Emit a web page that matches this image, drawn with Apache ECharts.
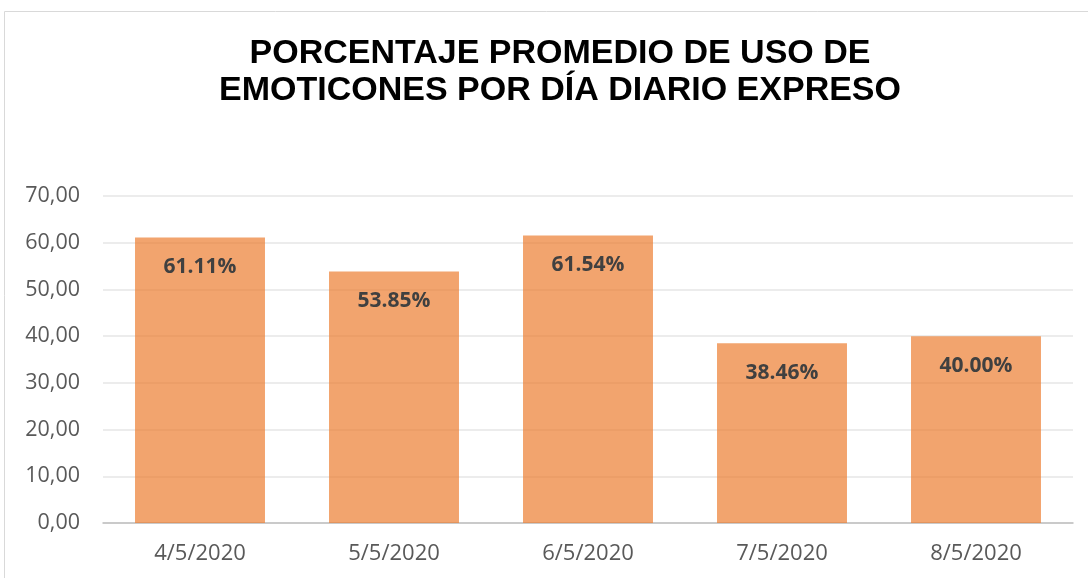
<!DOCTYPE html>
<html lang="es">
<head>
    <meta charset="utf-8">
    <title>Porcentaje promedio de uso de emoticones</title>
    <script src="https://cdn.jsdelivr.net/npm/echarts@6/dist/echarts.min.js"></script>
    <style>
        html, body { margin: 0; padding: 0; background: #fff; }
        #main { width: 1088px; height: 578px; }
    </style>
</head>
<body>
    <div id="main"></div>
    <script type="text/javascript">
        // datos
        var fechas = ['4/5/2020', '5/5/2020', '6/5/2020', '7/5/2020', '8/5/2020'];
        var porcentajes = [61.11, 53.85, 61.54, 38.46, 40.00];

        var myChart = echarts.init(document.getElementById('main'));

        myChart.setOption({
            animation: false,
            title: {
                text: 'PORCENTAJE PROMEDIO DE USO DE\nEMOTICONES POR DÍA DIARIO EXPRESO',
                left: 555,
                textAlign: 'center',
                top: 30,
                textStyle: {
                    fontFamily: 'Liberation Sans, Arial',
                    fontWeight: 'bold',
                    fontSize: 34,
                    lineHeight: 37,
                    color: '#000'
                }
            },
            graphic: [{
                type: 'rect',
                shape: { x: 4.5, y: 11.5, width: 1200, height: 700 },
                style: { fill: 'none', stroke: '#d9d9d9', lineWidth: 1 },
                silent: true
            }],
            grid: { left: 103, right: 15, top: 196, bottom: 55 },
            xAxis: {
                type: 'category',
                data: fechas,
                axisTick: { show: false },
                axisLine: { lineStyle: { color: '#bfbfbf', width: 1.5 } },
                axisLabel: {
                    color: '#595959',
                    fontSize: 22,
                    fontFamily: 'Open Sans, Noto Sans',
                    margin: 20
                }
            },
            yAxis: {
                type: 'value',
                min: 0,
                max: 70,
                interval: 10,
                axisLine: { show: false },
                axisTick: { show: false },
                splitLine: { lineStyle: { color: '#e6e6e6', width: 1.5 } },
                axisLabel: {
                    color: '#595959',
                    fontSize: 21.5,
                    fontFamily: 'Open Sans, Noto Sans',
                    margin: 23,
                    formatter: function (v) { return v.toFixed(2).replace('.', ','); }
                }
            },
            series: [{
                type: 'bar',
                data: porcentajes,
                barCategoryGap: '33%',
                itemStyle: { color: 'rgba(237,125,49,0.7)' },
                label: {
                    show: true,
                    position: 'insideTop',
                    distance: 19,
                    color: '#404040',
                    fontSize: 21,
                    fontWeight: 'bold',
                    fontFamily: 'Open Sans, Noto Sans',
                    formatter: function (p) { return p.value.toFixed(2) + '%'; }
                }
            }]
        });
    </script>
</body>
</html>
